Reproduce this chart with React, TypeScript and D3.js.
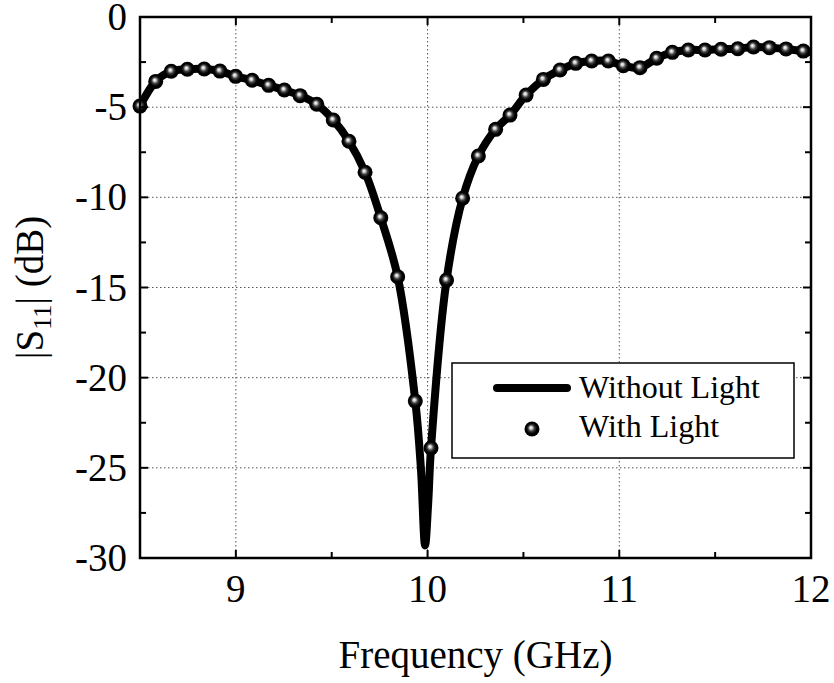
import React from "react";
import * as d3 from "d3";

// ---- Data ----
const xTickValues = [9, 10, 11, 12];
const yTickValues = [0, -5, -10, -15, -20, -25, -30];
const xGridValues = [9, 10, 11];
const yGridValues = [-5, -10, -15, -20, -25];

// "Without Light" (solid line)
const lineFreq = [
  8.5, 8.582, 8.663, 8.747, 8.835, 8.917, 8.999, 9.085, 9.171, 9.253, 9.335, 9.422,
  9.508, 9.59, 9.674, 9.756, 9.844, 9.936, 9.965, 9.987, 10.003, 10.018, 10.099,
  10.183, 10.265, 10.355, 10.43, 10.514, 10.604, 10.691, 10.773, 10.856, 10.943,
  11.021, 11.108, 11.195, 11.277, 11.36, 11.447, 11.531, 11.618, 11.7, 11.783, 11.87,
  11.96, 12.0,
];
const lineS11 = [
  -4.94, -3.57, -3.01, -2.9, -2.88, -3.0, -3.29, -3.51, -3.79, -4.05, -4.36, -4.84,
  -5.71, -6.89, -8.61, -11.13, -14.4, -21.3, -25.0, -29.3, -27.0, -23.9, -14.59,
  -10.05, -7.71, -6.23, -5.44, -4.33, -3.46, -2.94, -2.57, -2.44, -2.44,
  -2.7, -2.81, -2.29, -1.96, -1.83, -1.83, -1.79, -1.76, -1.66, -1.7, -1.77,
  -1.89, -1.95,
];

// "With Light" (markers)
const markerFreq = [
  8.5, 8.582, 8.663, 8.747, 8.835, 8.917, 8.999, 9.085, 9.171, 9.253, 9.335, 9.422,
  9.508, 9.59, 9.674, 9.756, 9.844, 9.936, 10.018, 10.099, 10.183, 10.265, 10.355,
  10.43, 10.514, 10.604, 10.691, 10.773, 10.856, 10.943, 11.021, 11.108, 11.195,
  11.277, 11.36, 11.447, 11.531, 11.618, 11.7, 11.783, 11.87, 11.96,
];
const markerS11 = [
  -4.94, -3.57, -3.01, -2.9, -2.88, -3.0, -3.29, -3.51, -3.79, -4.05, -4.36, -4.84,
  -5.71, -6.89, -8.61, -11.13, -14.4, -21.3, -23.9, -14.59, -10.05, -7.71, -6.23,
  -5.44, -4.33, -3.46, -2.94, -2.57, -2.44, -2.44, -2.7, -2.81, -2.29,
  -1.96, -1.83, -1.83, -1.79, -1.76, -1.66, -1.7, -1.77, -1.89,
];

const legendLabels = ["Without Light", "With Light"];

// ---- Layout ----
const W = 834;
const H = 683;
const M = { left: 140, right: 811, top: 17, bottom: 558 };
const FONT = "Liberation Serif";
const textStyle: React.CSSProperties = { fontFamily: FONT };

export default function App() {
  const x = d3.scaleLinear().domain([8.5, 12]).range([M.left, M.right]);
  const y = d3.scaleLinear().domain([-30, 0]).range([M.bottom, M.top]);

  const lineData = lineFreq.map((f, i) => [f, lineS11[i]] as [number, number]);
  const markerData = markerFreq.map((f, i) => [f, markerS11[i]] as [number, number]);

  const lineGen = d3
    .line<[number, number]>()
    .x((d) => x(d[0]))
    .y((d) => y(d[1]))
    .curve(d3.curveCatmullRom.alpha(0.5));

  const xMinor = d3.range(8.5, 12.001, 0.5);
  const yMinor = d3.range(-30, 0.001, 2.5);

  const R = 7.5;

  return (
    <svg
      width={W}
      height={H}
      style={{ position: "absolute", left: 0, top: 0, background: "#fff", fontFamily: FONT }}
    >
      <defs>
        <radialGradient id="ball" cx="0.5" cy="0.5" r="0.5" fx="0.42" fy="0.4">
          <stop offset="0%" stopColor="#ffffff" />
          <stop offset="18%" stopColor="#d0d0d0" />
          <stop offset="42%" stopColor="#404040" />
          <stop offset="70%" stopColor="#000000" />
          <stop offset="100%" stopColor="#000000" />
        </radialGradient>
        <clipPath id="plotClip">
          <rect x={M.left} y={M.top} width={M.right - M.left} height={M.bottom - M.top} />
        </clipPath>
      </defs>

      {/* grid */}
      <g stroke="#555" strokeWidth={1} strokeDasharray="1.5,2.5">
        {xGridValues.map((v) => (
          <line key={"gx" + v} x1={x(v)} x2={x(v)} y1={M.top} y2={M.bottom} />
        ))}
        {yGridValues.map((v) => (
          <line key={"gy" + v} x1={M.left} x2={M.right} y1={y(v)} y2={y(v)} />
        ))}
      </g>

      {/* data */}
      <g clipPath="url(#plotClip)">
        <path
          d={lineGen(lineData) || ""}
          fill="none"
          stroke="#000"
          strokeWidth={8}
          strokeLinejoin="round"
          strokeLinecap="round"
        />
      </g>
      <g>
        {markerData.map((d, i) => (
          <circle key={"m" + i} cx={x(d[0])} cy={y(d[1])} r={R} fill="url(#ball)" />
        ))}
      </g>

      {/* ticks (inward) */}
      <g stroke="#000" strokeWidth={2}>
        {xMinor.map((v, i) => {
          const len = Number.isInteger(v) ? 8 : 6;
          return (
            <g key={"xt" + i}>
              <line x1={x(v)} x2={x(v)} y1={M.bottom} y2={M.bottom - len} />
              <line x1={x(v)} x2={x(v)} y1={M.top} y2={M.top + len} />
            </g>
          );
        })}
        {yMinor.map((v, i) => {
          const len = v % 5 === 0 ? 8 : 6;
          return (
            <g key={"yt" + i}>
              <line x1={M.left} x2={M.left + len} y1={y(v)} y2={y(v)} />
              <line x1={M.right} x2={M.right - len} y1={y(v)} y2={y(v)} />
            </g>
          );
        })}
      </g>

      {/* frame */}
      <rect
        x={M.left}
        y={M.top}
        width={M.right - M.left}
        height={M.bottom - M.top}
        fill="none"
        stroke="#000"
        strokeWidth={2.5}
      />

      {/* tick labels */}
      <g fontSize={39} fill="#000" style={textStyle}>
        {xTickValues.map((v) => (
          <text key={"xl" + v} x={x(v)} y={602} textAnchor="middle" style={textStyle}>
            {v}
          </text>
        ))}
        {yTickValues.map((v) => (
          <text key={"yl" + v} x={127} y={y(v) + 13} textAnchor="end" style={textStyle}>
            {v}
          </text>
        ))}
      </g>

      {/* axis titles */}
      <text
        x={(M.left + M.right) / 2}
        y={668}
        fontSize={39}
        textAnchor="middle"
        style={textStyle}
      >
        Frequency (GHz)
      </text>
      <text
        transform={`translate(43, ${(M.top + M.bottom) / 2}) rotate(-90)`}
        fontSize={39}
        textAnchor="middle"
        style={textStyle}
      >
        |S
        <tspan fontSize={26} dy={8}>
          11
        </tspan>
        <tspan dy={-8}>| (dB)</tspan>
      </text>

      {/* legend */}
      <g>
        <rect x={452} y={363} width={342} height={95} fill="#fff" stroke="#000" strokeWidth={1.5} />
        <line x1={497} x2={567} y1={388} y2={388} stroke="#000" strokeWidth={8} strokeLinecap="round" />
        <text x={579} y={398} fontSize={32} style={textStyle}>
          {legendLabels[0]}
        </text>
        <circle cx={532} cy={429} r={R} fill="url(#ball)" />
        <text x={579} y={437} fontSize={32} style={textStyle}>
          {legendLabels[1]}
        </text>
      </g>
    </svg>
  );
}
